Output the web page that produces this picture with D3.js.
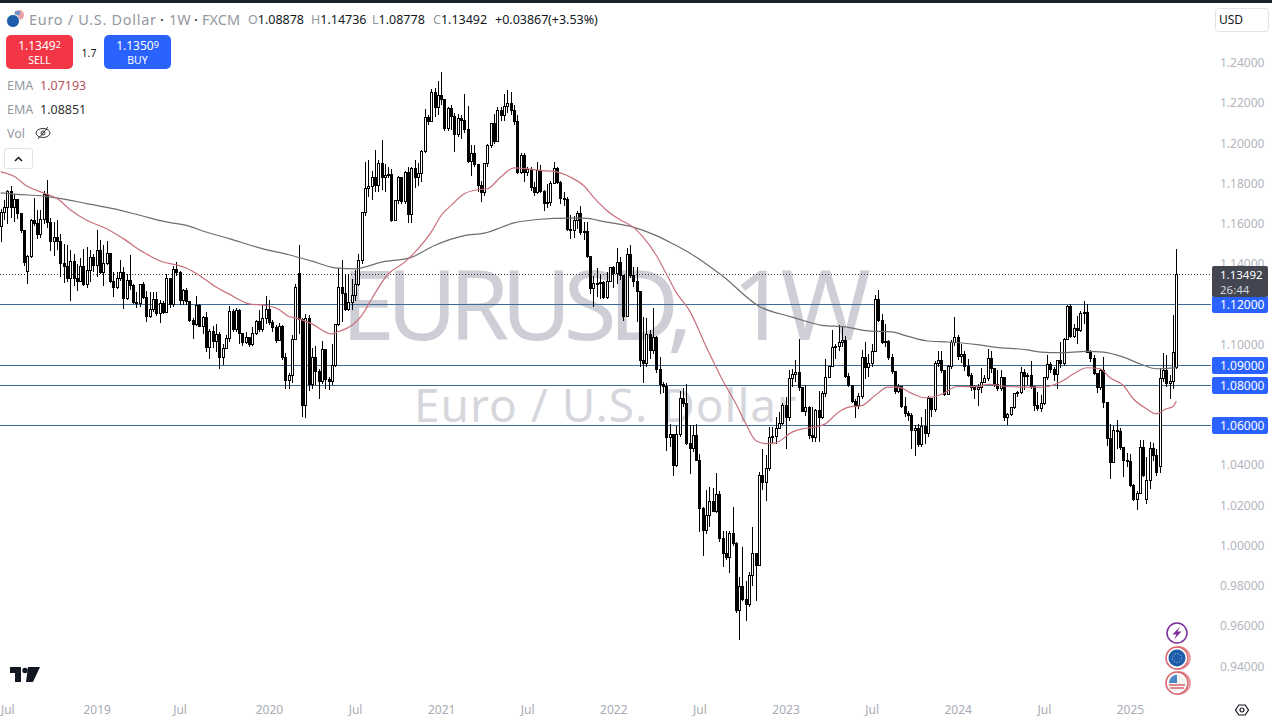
<!DOCTYPE html>
<html>
<head>
<meta charset="utf-8">
<script src="https://cdnjs.cloudflare.com/ajax/libs/d3/7.8.5/d3.min.js"></script>
<style>
  html, body { margin: 0; padding: 0; background: #fff; overflow: hidden; }
  text { font-family: "Noto Sans", "Open Sans", sans-serif; }
</style>
</head>
<body>
<script>
const WIDTH = 1272;
const HEIGHT = 720;

// Weekly closes, one entry per week. The open of a week is the close before it.
const closes = [
  1.1658,1.1680,1.1762,1.1683,1.1720,1.1650,1.1564,1.1405,1.1438,1.1614,
  1.1601,1.1547,1.1620,1.1747,1.1604,1.1514,1.1530,1.1510,1.1400,1.1385,
  1.1326,1.1414,1.1326,1.1315,1.1388,1.1297,1.1368,1.1434,1.1393,1.1468,
  1.1360,1.1401,1.1451,1.1315,1.1285,1.1326,1.1360,1.1227,1.1318,1.1293,
  1.1210,1.1205,1.1298,1.1235,1.1139,1.1175,1.1225,1.1152,1.1202,1.1160,
  1.1327,1.1200,1.1371,1.1360,1.1219,1.1268,1.1214,1.1120,1.1100,1.1194,
  1.1090,1.1135,1.0983,1.1066,1.1016,1.1050,1.0936,1.0980,1.1030,1.1163,
  1.1075,1.1170,1.1053,1.1010,1.1035,1.1000,1.1055,1.1115,1.1072,1.1130,
  1.1172,1.1110,1.1082,1.1020,1.1089,1.0936,1.0820,1.0845,1.1023,1.1285,
  1.1122,1.0696,1.1127,1.0803,1.0936,1.0866,1.0817,1.0973,1.0828,1.0818,
  1.0895,1.1097,1.1285,1.1251,1.1172,1.1210,1.1244,1.1296,1.1418,1.1654,
  1.1774,1.1785,1.1832,1.1790,1.1900,1.1832,1.1840,1.1845,1.1616,1.1716,
  1.1829,1.1711,1.1853,1.1644,1.1873,1.1832,1.1850,1.1961,1.2126,1.2109,
  1.2252,1.2176,1.2235,1.2217,1.2073,1.2172,1.2131,1.2043,1.2122,1.2115,
  1.2068,1.1907,1.1948,1.1893,1.1790,1.1757,1.1898,1.1990,1.2098,1.2010,
  1.2164,1.2139,1.2181,1.2197,1.2164,1.2106,1.1857,1.1937,1.1857,1.1868,
  1.1782,1.1757,1.1865,1.1760,1.1700,1.1705,1.1800,1.1877,1.1805,1.1724,
  1.1720,1.1570,1.1567,1.1616,1.1650,1.1558,1.1560,1.1437,1.1276,1.1301,
  1.1304,1.1310,1.1231,1.1314,1.1380,1.1351,1.1408,1.1342,1.1138,1.1445,
  1.1342,1.1314,1.1264,1.0919,1.0904,1.1048,1.0969,1.1035,1.0873,1.0799,
  1.0793,1.0537,1.0550,1.0396,1.0554,1.0731,1.0706,1.0507,1.0482,1.0548,
  1.0424,1.0183,1.0075,1.0150,1.0221,1.0171,1.0254,1.0033,0.9959,0.9942,
  1.0060,1.0009,0.9677,0.9796,0.9730,0.9706,0.9851,0.9959,0.9901,1.0349,
  1.0316,1.0382,1.0536,1.0540,1.0581,1.0609,1.0697,1.0639,1.0829,1.0849,
  1.0860,1.0788,1.0668,1.0688,1.0545,1.0535,1.0670,1.0638,1.0758,1.0838,
  1.0891,1.0987,1.0990,1.1012,1.1020,1.0843,1.0796,1.0718,1.0696,1.0741,
  1.0937,1.0887,1.0905,1.0967,1.1223,1.1120,1.1009,1.1015,1.0934,1.0863,
  1.0768,1.0790,1.0692,1.0655,1.0645,1.0570,1.0580,1.0501,1.0592,1.0555,
  1.0730,1.0675,1.0904,1.0920,1.0871,1.0751,1.0891,1.1012,1.1034,1.0941,
  1.0950,1.0891,1.0846,1.0784,1.0775,1.0785,1.0813,1.0830,1.0929,1.0879,
  1.0801,1.0779,1.0834,1.0635,1.0650,1.0685,1.0754,1.0763,1.0862,1.0841,
  1.0845,1.0791,1.0696,1.0680,1.0705,1.0834,1.0900,1.0877,1.0851,1.0920,
  1.0905,1.1023,1.1189,1.1040,1.1078,1.1070,1.1156,1.1160,1.0962,1.0932,
  1.0857,1.0788,1.0871,1.0713,1.0534,1.0411,1.0572,1.0569,1.0489,1.0422,
  1.0419,1.0298,1.0227,1.0260,1.0486,1.0348,1.0323,1.0481,1.0447,1.0361,
  1.0829,1.0871,1.0807,1.0818,1.0962,1.13492
];

const highs = [
  1.1675,1.1720,1.1770,1.1786,1.1750,1.1720,1.1655,1.1570,1.1445,1.1625,
  1.1730,1.1667,1.1667,1.1763,1.1816,1.1630,1.1610,1.1620,1.1550,1.1497,
  1.1493,1.1468,1.1450,1.1401,1.1431,1.1476,1.1484,1.1468,1.1450,1.1567,
  1.1520,1.1493,1.1512,1.1450,1.1360,1.1360,1.1418,1.1385,1.1351,1.1446,
  1.1300,1.1260,1.1300,1.1310,1.1265,1.1263,1.1260,1.1260,1.1220,1.1215,
  1.1348,1.1330,1.1390,1.1412,1.1365,1.1275,1.1280,1.1215,1.1130,1.1243,
  1.1200,1.1140,1.1160,1.1075,1.1090,1.1100,1.1060,1.1000,1.1045,1.1190,
  1.1178,1.1180,1.1175,1.1055,1.1060,1.1030,1.1085,1.1122,1.1170,1.1198,
  1.1239,1.1220,1.1120,1.1095,1.1105,1.1095,1.0955,1.0860,1.1049,1.1300,
  1.1492,1.1130,1.1150,1.1146,1.0980,1.0990,1.0880,1.1016,1.0973,1.0840,
  1.1003,1.1100,1.1381,1.1421,1.1351,1.1351,1.1326,1.1368,1.1451,1.1660,
  1.1907,1.1915,1.1860,1.1965,1.1915,1.2015,1.1898,1.1882,1.1873,1.1720,
  1.1835,1.1830,1.1860,1.1880,1.1880,1.1915,1.1900,1.1965,1.2172,1.2140,
  1.2272,1.2275,1.2308,1.2352,1.2222,1.2180,1.2190,1.2150,1.2145,1.2140,
  1.2243,1.2185,1.1990,1.1990,1.1895,1.1810,1.1900,1.1995,1.2100,1.2147,
  1.2180,1.2180,1.2247,1.2263,1.2254,1.2190,1.2139,1.1950,1.1950,1.1881,
  1.1880,1.1805,1.1905,1.1890,1.1770,1.1800,1.1810,1.1907,1.1880,1.1810,
  1.1760,1.1735,1.1641,1.1640,1.1665,1.1688,1.1610,1.1610,1.1440,1.1342,
  1.1380,1.1351,1.1315,1.1359,1.1385,1.1390,1.1480,1.1434,1.1342,1.1480,
  1.1492,1.1384,1.1387,1.1243,1.1135,1.1131,1.1072,1.1181,1.1044,1.0936,
  1.0815,1.0806,1.0604,1.0545,1.0595,1.0768,1.0785,1.0805,1.0598,1.0598,
  1.0606,1.0457,1.0190,1.0278,1.0290,1.0288,1.0360,1.0270,1.0075,1.0075,
  1.0072,1.0194,1.0020,0.9843,0.9992,0.9826,0.9868,1.0092,0.9960,1.0366,
  1.0482,1.0448,1.0590,1.0590,1.0639,1.0664,1.0709,1.0739,1.0875,1.0879,
  1.0924,1.1029,1.0790,1.0799,1.0692,1.0688,1.0680,1.0770,1.0770,1.0926,
  1.0895,1.1070,1.1000,1.1095,1.1090,1.1040,1.0860,1.0800,1.0730,1.0760,
  1.0970,1.1012,1.0950,1.1000,1.1244,1.1273,1.1150,1.1100,1.1020,1.0950,
  1.0868,1.0804,1.0790,1.0740,1.0670,1.0660,1.0600,1.0605,1.0640,1.0680,
  1.0746,1.0735,1.0916,1.0967,1.0967,1.0875,1.0900,1.1020,1.1136,1.1046,
  1.1000,1.0965,1.0929,1.0860,1.0800,1.0805,1.0884,1.0846,1.0978,1.0965,
  1.0885,1.0871,1.0875,1.0840,1.0660,1.0690,1.0760,1.0770,1.0887,1.0879,
  1.0860,1.0917,1.0795,1.0763,1.0751,1.0840,1.0945,1.0915,1.0890,1.0925,
  1.1012,1.1030,1.1194,1.1200,1.1100,1.1140,1.1165,1.1214,1.1203,1.0970,
  1.0945,1.0860,1.0880,1.0937,1.0715,1.0605,1.0597,1.0625,1.0585,1.0490,
  1.0460,1.0456,1.0305,1.0273,1.0525,1.0525,1.0439,1.0514,1.0509,1.0480,
  1.0884,1.0955,1.0945,1.0850,1.1145,1.14736
];

const lows = [
  1.1509,1.1617,1.1600,1.1630,1.1610,1.1625,1.1555,1.1390,1.1302,1.1430,
  1.1590,1.1526,1.1529,1.1600,1.1580,1.1465,1.1440,1.1468,1.1335,1.1305,
  1.1310,1.1216,1.1290,1.1268,1.1335,1.1290,1.1280,1.1310,1.1360,1.1335,
  1.1350,1.1288,1.1395,1.1305,1.1235,1.1275,1.1315,1.1177,1.1220,1.1270,
  1.1200,1.1180,1.1185,1.1225,1.1110,1.1130,1.1160,1.1140,1.1105,1.1150,
  1.1160,1.1180,1.1185,1.1340,1.1195,1.1197,1.1195,1.1110,1.1028,1.1090,
  1.1085,1.1053,1.0960,1.0928,1.0980,1.0960,1.0878,1.0900,1.0980,1.1010,
  1.1060,1.1060,1.1003,1.0990,1.1000,1.0985,1.0990,1.1045,1.1060,1.1060,
  1.1100,1.1095,1.1060,1.1005,1.1015,1.0925,1.0780,1.0780,1.0807,1.1020,
  1.1050,1.0640,1.0636,1.0770,1.0780,1.0800,1.0728,1.0804,1.0780,1.0775,
  1.0800,1.0886,1.1090,1.1110,1.1168,1.1168,1.1170,1.1215,1.1290,1.1400,
  1.1640,1.1735,1.1720,1.1760,1.1760,1.1766,1.1760,1.1825,1.1610,1.1612,
  1.1700,1.1700,1.1700,1.1602,1.1605,1.1780,1.1790,1.1807,1.1950,1.2090,
  1.2125,1.2130,1.2140,1.2190,1.2060,1.2060,1.2065,1.1955,1.2030,1.2020,
  1.2050,1.1900,1.1835,1.1880,1.1760,1.1708,1.1740,1.1880,1.1976,1.1995,
  1.2006,1.2110,1.2110,1.2150,1.2140,1.2090,1.1845,1.1847,1.1807,1.1835,
  1.1765,1.1740,1.1750,1.1755,1.1665,1.1680,1.1690,1.1800,1.1800,1.1700,
  1.1690,1.1563,1.1525,1.1530,1.1575,1.1545,1.1520,1.1430,1.1251,1.1185,
  1.1234,1.1226,1.1225,1.1225,1.1310,1.1281,1.1300,1.1320,1.1118,1.1135,
  1.1330,1.1284,1.1110,1.0886,1.0806,1.0890,1.0927,1.0950,1.0860,1.0756,
  1.0761,1.0471,1.0490,1.0346,1.0390,1.0540,1.0690,1.0500,1.0357,1.0465,
  1.0420,1.0067,0.9950,1.0060,1.0091,1.0166,1.0160,1.0020,0.9896,0.9930,
  0.9862,1.0000,0.9664,0.9530,0.9725,0.9627,0.9693,0.9801,0.9726,0.9900,
  1.0274,1.0221,1.0370,1.0507,1.0505,1.0580,1.0600,1.0482,1.0620,1.0790,
  1.0815,1.0770,1.0665,1.0645,1.0530,1.0516,1.0514,1.0515,1.0630,1.0741,
  1.0835,1.0890,1.0930,1.0965,1.0985,1.0835,1.0790,1.0710,1.0634,1.0680,
  1.0730,1.0830,1.0840,1.0890,1.0960,1.1110,1.1000,1.0985,1.0925,1.0855,
  1.0755,1.0760,1.0685,1.0640,1.0620,1.0480,1.0444,1.0490,1.0490,1.0506,
  1.0540,1.0640,1.0665,1.0890,1.0860,1.0746,1.0750,1.0880,1.0990,1.0925,
  1.0910,1.0870,1.0840,1.0770,1.0730,1.0696,1.0760,1.0810,1.0820,1.0860,
  1.0790,1.0770,1.0770,1.0620,1.0600,1.0645,1.0680,1.0740,1.0755,1.0775,
  1.0800,1.0780,1.0671,1.0670,1.0665,1.0700,1.0825,1.0860,1.0820,1.0780,
  1.0885,1.0895,1.1020,1.1030,1.1030,1.1003,1.1060,1.1100,1.0955,1.0915,
  1.0850,1.0760,1.0775,1.0685,1.0497,1.0331,1.0410,1.0480,1.0475,1.0339,
  1.0390,1.0290,1.0220,1.0177,1.0255,1.0340,1.0207,1.0280,1.0420,1.0345,
  1.0360,1.0815,1.0790,1.0730,1.0779,1.08778
];

// Weeks that visibly gap away from the previous close
const gapOpens = { 0: 1.1584, 8: 1.1365, 90: 1.1351, 346: 1.0227, 350: 1.0393, 355: 1.08878 };

// EMA readings as [week, price] pairs
const emaFast = [
  [0,1.1858],[4,1.1836],[8,1.1786],[13,1.1753],[17,1.1725],[21,1.1670],[26,1.1617],[32,1.1575],
  [37,1.1526],[43,1.1459],[49,1.1410],[53,1.1396],[56,1.1380],[60,1.1343],[65,1.1285],[69,1.1250],
  [75,1.1202],[80,1.1194],[84,1.1174],[87,1.1139],[89,1.1132],[94,1.1102],[100,1.1052],[102,1.1064],
  [106,1.1094],[109,1.1143],[112,1.1226],[117,1.1350],[122,1.1409],[126,1.1475],[130,1.1558],
  [133,1.1641],[136,1.1691],[140,1.1749],[144,1.1769],[147,1.1774],[151,1.1832],[155,1.1878],
  [159,1.1873],[163,1.1865],[167,1.1860],[172,1.1832],[176,1.1790],[179,1.1732],[183,1.1666],
  [187,1.1620],[191,1.1583],[194,1.1533],[198,1.1442],[201,1.1351],[204,1.1259],[208,1.1168],
  [213,1.0990],[218,1.0822],[222,1.0706],[225,1.0606],[228,1.0523],[231,1.0507],[234,1.0511],
  [239,1.0564],[242,1.0580],[246,1.0589],[249,1.0605],[253,1.0663],[256,1.0688],[260,1.0696],
  [264,1.0746],[268,1.0788],[271,1.0788],[275,1.0758],[279,1.0735],[284,1.0751],[289,1.0791],
  [295,1.0790],[298,1.0801],[304,1.0791],[310,1.0788],[315,1.0788],[320,1.0813],[324,1.0854],
  [328,1.0884],[332,1.0879],[335,1.0834],[339,1.0796],[342,1.0730],[346,1.0680],[349,1.0655],
  [352,1.0680],[354,1.0691],[355,1.07193]
];
const emaSlow = [
  [0,1.1753],[5,1.1746],[13,1.1737],[20,1.1720],[26,1.1700],[34,1.1675],[42,1.1642],[50,1.1609],
  [56,1.1592],[62,1.1559],[69,1.1526],[79,1.1476],[87,1.1446],[94,1.1414],[101,1.1381],[107,1.1376],
  [115,1.1409],[124,1.1433],[131,1.1492],[140,1.1541],[146,1.1553],[155,1.1604],[162,1.1621],
  [172,1.1628],[176,1.1628],[183,1.1608],[191,1.1583],[198,1.1541],[203,1.1500],[208,1.1455],
  [218,1.1340],[229,1.1190],[239,1.1136],[248,1.1095],[255,1.1087],[262,1.1067],[269,1.1062],
  [274,1.1040],[280,1.1017],[286,1.1012],[295,1.0999],[300,1.0987],[310,1.0973],[314,1.0962],
  [320,1.0959],[328,1.0965],[333,1.0962],[339,1.0937],[344,1.0904],[349,1.0879],[355,1.08851]
];

const priceTicks = [1.24,1.22,1.20,1.18,1.16,1.14,1.10,1.04,1.02,1.00,0.98,0.96,0.94];
const levelPrices = [1.12,1.09,1.08,1.06];
const timeWeeks = [2,29,54,81,107,133,159,185,211,237,263,289,315,341];
const timeLabels = ["Jul","2019","Jul","2020","Jul","2021","Jul","2022","Jul","2023","Jul","2024","Jul","2025"];
const ohlcLabels = [["O","1.08878",248],["H","1.14736",311],["L","1.08778",372],["C","1.13492",433]];

const svg = d3.select("body").append("svg")
  .attr("width", WIDTH)
  .attr("height", HEIGHT)
  .style("display", "block");

const escalaX = d3.scaleLinear().domain([0, 355]).range([0.7, 1176.3]);
const escalaY = d3.scaleLinear().domain([0.94, 1.24]).range([666.3, 62.8]);

const velas = closes.map((c, i) => ({
  i,
  o: gapOpens[i] !== undefined ? gapOpens[i] : closes[i - 1],
  h: highs[i],
  l: lows[i],
  c
}));

// Top bar
svg.append("rect").attr("width", WIDTH).attr("height", 3).attr("fill", "#1e222d");

// Watermark
svg.append("text").attr("x", 341).attr("y", 340)
  .attr("font-size", 97).attr("fill", "#cdced6").attr("textLength", 352)
  .text("EURUSD,");
svg.append("text").attr("x", 732).attr("y", 340)
  .attr("font-size", 97).attr("fill", "#cdced6").attr("textLength", 139)
  .text("1W");
svg.append("text").attr("x", 605).attr("y", 422).attr("text-anchor", "middle")
  .attr("font-size", 46).attr("fill", "#d6d7dd").attr("textLength", 382)
  .text("Euro / U.S. Dollar");

// Horizontal levels
svg.append("g").selectAll("line").data(levelPrices).join("line")
  .attr("x1", 0).attr("x2", 1211)
  .attr("y1", d => Math.round(escalaY(d)) + 0.5)
  .attr("y2", d => Math.round(escalaY(d)) + 0.5)
  .attr("stroke", "#3c6b96").attr("stroke-width", 1);

// Dotted line at the current price
svg.append("line").attr("x1", 0).attr("x2", 1211)
  .attr("y1", Math.round(escalaY(1.13492)) + 0.5).attr("y2", Math.round(escalaY(1.13492)) + 0.5)
  .attr("stroke", "#333").attr("stroke-dasharray", "1 2");

// Candles
const grupoVelas = svg.append("g").attr("shape-rendering", "crispEdges");
grupoVelas.selectAll("line").data(velas).join("line")
  .attr("x1", d => Math.round(escalaX(d.i)) + 0.5)
  .attr("x2", d => Math.round(escalaX(d.i)) + 0.5)
  .attr("y1", d => escalaY(d.h))
  .attr("y2", d => escalaY(d.l))
  .attr("stroke", "#000");
grupoVelas.selectAll("rect").data(velas).join("rect")
  .attr("x", d => Math.round(escalaX(d.i)) - 0.5)
  .attr("width", 2)
  .attr("y", d => escalaY(Math.max(d.o, d.c)))
  .attr("height", d => Math.max(1, Math.abs(escalaY(d.o) - escalaY(d.c))))
  .attr("fill", d => d.c >= d.o ? "#fff" : "#000")
  .attr("stroke", "#000");

// EMA lines
const linea = d3.line()
  .x(d => escalaX(d[0]))
  .y(d => escalaY(d[1]))
  .curve(d3.curveMonotoneX);
svg.append("path").attr("d", linea(emaSlow)).attr("fill", "none")
  .attr("stroke", "#6e6e6e").attr("stroke-width", 1.2);
svg.append("path").attr("d", linea(emaFast)).attr("fill", "none")
  .attr("stroke", "#c8707c").attr("stroke-width", 1.2);

// Price axis
const ejeY = svg.append("g").attr("transform", "translate(1220,0)")
  .call(d3.axisRight(escalaY).tickValues(priceTicks).tickFormat(d3.format(".5f")).tickSize(0).tickPadding(0));
ejeY.select(".domain").remove();
ejeY.selectAll("text").attr("fill", "#b2b5be").attr("font-size", 12)
  .style("font-family", '"Noto Sans", sans-serif');

// Time axis
const ejeX = svg.append("g").attr("transform", "translate(0,705)")
  .call(d3.axisBottom(escalaX).tickValues(timeWeeks)
    .tickFormat((d, i) => timeLabels[i]).tickSize(0).tickPadding(0));
ejeX.select(".domain").remove();
ejeX.selectAll("text").attr("fill", "#a8abb5").attr("font-size", 12)
  .style("font-family", '"Noto Sans", sans-serif');

// Level labels on the price axis
const etiquetas = svg.append("g").selectAll("g").data(levelPrices).join("g")
  .attr("transform", d => `translate(1212,${Math.round(escalaY(d)) + 0.5})`);
etiquetas.append("rect").attr("y", -8.5).attr("width", 56).attr("height", 17).attr("rx", 2).attr("fill", "#2962ff");
etiquetas.append("text").attr("x", 8).attr("y", 4.5).attr("font-size", 12).attr("fill", "#fff")
  .text(d3.format(".5f"));

// Current price label
const actual = svg.append("g").attr("transform", "translate(1212,266)");
actual.append("rect").attr("width", 56).attr("height", 31).attr("rx", 2).attr("fill", "#434651");
actual.append("text").attr("x", 8).attr("y", 13).attr("font-size", 11.5).attr("fill", "#fff").text("1.13492");
actual.append("text").attr("x", 8).attr("y", 28).attr("font-size", 11.5).attr("fill", "#d1d4dc").text("26:44");

// Currency button
svg.append("rect").attr("x", 1215.5).attr("y", 8.5).attr("width", 53).attr("height", 23).attr("rx", 3)
  .attr("fill", "#fff").attr("stroke", "#e0e3eb");
svg.append("text").attr("x", 1219).attr("y", 24).attr("font-size", 12).attr("fill", "#131722").text("USD");

// Header icon
svg.append("circle").attr("cx", 19).attr("cy", 15).attr("r", 5).attr("fill", "#e9a0a8");
svg.append("rect").attr("x", 15).attr("y", 11).attr("width", 5).attr("height", 4).attr("fill", "#6f93c8");
svg.append("circle").attr("cx", 13).attr("cy", 21).attr("r", 6.5).attr("fill", "#1d5ca8").attr("stroke", "#fff");

// Header text
svg.append("text").attr("x", 29).attr("y", 25).attr("font-size", 14.5).attr("fill", "#9598a1")
  .attr("textLength", 127).text("Euro / U.S. Dollar");
svg.append("text").attr("x", 160).attr("y", 25).attr("font-size", 14.5).attr("fill", "#131722").text("·");
svg.append("text").attr("x", 169).attr("y", 25).attr("font-size", 14.5).attr("fill", "#9598a1").text("1W");
svg.append("text").attr("x", 194).attr("y", 25).attr("font-size", 14.5).attr("fill", "#131722").text("·");
svg.append("text").attr("x", 202).attr("y", 25).attr("font-size", 14.5).attr("fill", "#9598a1").text("FXCM");

const ohlc = svg.append("g").selectAll("text").data(ohlcLabels).join("text")
  .attr("x", d => d[2]).attr("y", 24).attr("font-size", 12.5);
ohlc.append("tspan").attr("fill", "#9598a1").text(d => d[0]);
ohlc.append("tspan").attr("fill", "#131722").text(d => d[1]);
svg.append("text").attr("x", 495).attr("y", 24).attr("font-size", 12.5).attr("fill", "#131722").text("+0.03867");
svg.append("text").attr("x", 548).attr("y", 24).attr("font-size", 12.5).attr("fill", "#131722").text("(+3.53%)");

// Sell and buy buttons
function boton(x, color, precio, chico, rotulo) {
  const g = svg.append("g").attr("transform", `translate(${x},35)`);
  g.append("rect").attr("width", 67).attr("height", 34).attr("rx", 5).attr("fill", color);
  const t = g.append("text").attr("x", 33.5).attr("y", 15).attr("text-anchor", "middle")
    .attr("font-size", 12).attr("fill", "#fff");
  t.append("tspan").text(precio);
  t.append("tspan").attr("font-size", 9).attr("dy", -2).text(chico);
  g.append("text").attr("x", 33.5).attr("y", 29).attr("text-anchor", "middle")
    .attr("font-size", 10.5).attr("fill", "#fff").text(rotulo);
}
boton(6, "#f23645", "1.1349", "2", "SELL");
boton(104, "#2962ff", "1.1350", "9", "BUY");
svg.append("text").attr("x", 89).attr("y", 57).attr("text-anchor", "middle")
  .attr("font-size", 10.5).attr("fill", "#131722").text("1.7");

// Indicator legend
svg.append("text").attr("x", 7).attr("y", 90).attr("font-size", 12.5).attr("fill", "#9598a1").text("EMA");
svg.append("text").attr("x", 40).attr("y", 90).attr("font-size", 12.5).attr("fill", "#b9525f").text("1.07193");
svg.append("text").attr("x", 7).attr("y", 114).attr("font-size", 12.5).attr("fill", "#9598a1").text("EMA");
svg.append("text").attr("x", 40).attr("y", 114).attr("font-size", 12.5).attr("fill", "#333").text("1.08851");
svg.append("text").attr("x", 7).attr("y", 138).attr("font-size", 12.5).attr("fill", "#9598a1").text("Vol");

// Crossed eye
const ojo = svg.append("g").attr("transform", "translate(43,133)").attr("fill", "none").attr("stroke", "#333");
ojo.append("ellipse").attr("rx", 7).attr("ry", 4.5);
ojo.append("circle").attr("r", 2);
ojo.append("line").attr("x1", -5).attr("y1", 6).attr("x2", 5).attr("y2", -6);

// Collapse button
svg.append("rect").attr("x", 4.5).attr("y", 148.5).attr("width", 28).attr("height", 20).attr("rx", 2)
  .attr("fill", "#fff").attr("stroke", "#e0e3eb");
svg.append("path").attr("d", "M15 161l3.5-3.5 3.5 3.5").attr("fill", "none").attr("stroke", "#131722").attr("stroke-width", 1.5);

// TradingView logo
svg.append("path").attr("fill", "#131722")
  .attr("d", "M10 667H21V682H15V673H10Z M28 667H40L33 682H26Z");
svg.append("circle").attr("cx", 25).attr("cy", 670.5).attr("r", 2.7).attr("fill", "#131722");

// Bottom right badges
const rayo = svg.append("g").attr("transform", "translate(1177,633)");
rayo.append("circle").attr("r", 10).attr("fill", "#fff").attr("stroke", "#7b2d99").attr("stroke-width", 1.5);
rayo.append("path").attr("d", "M3-6.5L-4.5 1.5H-0.5L-3 6.5L4.5-1.5H0.5Z").attr("fill", "#7b2d99");

const eu = svg.append("g").attr("transform", "translate(1177,658)");
eu.append("circle").attr("cx", 2).attr("r", 11).attr("fill", "#fff").attr("stroke", "#e58a92").attr("stroke-width", 1.5);
eu.append("circle").attr("r", 11).attr("fill", "#fff").attr("stroke", "#d9656f").attr("stroke-width", 1.5);
eu.append("circle").attr("r", 8.5).attr("fill", "#1d5ca8");
eu.append("circle").attr("r", 4.5).attr("fill", "none").attr("stroke", "#8fb1d8").attr("stroke-dasharray", "1.5 1.5");

const us = svg.append("g").attr("transform", "translate(1177,683)");
us.append("circle").attr("cx", 2).attr("r", 11).attr("fill", "#fff").attr("stroke", "#e58a92").attr("stroke-width", 1.5);
us.append("circle").attr("r", 11).attr("fill", "#fff").attr("stroke", "#d9656f").attr("stroke-width", 1.5);
us.append("circle").attr("r", 8.5).attr("fill", "#f3f3f3");
us.append("path").attr("d", "M-8 2H8M-7 5H7").attr("stroke", "#d9656f").attr("stroke-width", 1.6);
us.append("path").attr("d", "M-8 0A8.5 8.5 0 0 1 0-8.5V0Z").attr("fill", "#4f86c6");

// Settings hexagon
const ajustes = svg.append("g").attr("transform", "translate(1242,710)").attr("fill", "none")
  .attr("stroke", "#131722").attr("stroke-width", 1.2);
ajustes.append("path").attr("d", "M-6.5 0L-3.2-5H3.2L6.5 0L3.2 5H-3.2Z");
ajustes.append("circle").attr("r", 2);
</script>
</body>
</html>
